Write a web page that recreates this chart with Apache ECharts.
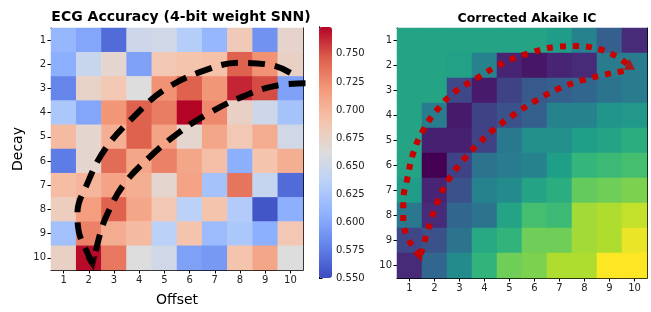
<!DOCTYPE html>
<html>
<head>
<meta charset="utf-8" />
<script src="https://cdn.jsdelivr.net/npm/echarts@6/dist/echarts.min.js"></script>
<style>
  html, body { margin: 0; padding: 0; background: #fff; }
  #chart { width: 651px; height: 312px; }
</style>
</head>
<body>
<div id="chart"></div>
<script>
const offsets = ['1', '2', '3', '4', '5', '6', '7', '8', '9', '10'];
const decays = ['1', '2', '3', '4', '5', '6', '7', '8', '9', '10'];

// ECG accuracy, rows = decay 1..10, cols = offset 1..10
const accuracy = [
  [0.612, 0.600, 0.566, 0.650, 0.652, 0.632, 0.612, 0.683, 0.588, 0.672],
  [0.606, 0.646, 0.670, 0.596, 0.686, 0.690, 0.692, 0.745, 0.722, 0.676],
  [0.580, 0.674, 0.686, 0.662, 0.722, 0.745, 0.720, 0.764, 0.752, 0.596],
  [0.626, 0.600, 0.720, 0.745, 0.732, 0.774, 0.726, 0.676, 0.650, 0.622],
  [0.696, 0.670, 0.704, 0.745, 0.712, 0.670, 0.710, 0.686, 0.706, 0.652],
  [0.575, 0.670, 0.740, 0.710, 0.730, 0.710, 0.694, 0.606, 0.690, 0.705],
  [0.695, 0.700, 0.712, 0.705, 0.670, 0.712, 0.622, 0.736, 0.644, 0.566],
  [0.680, 0.716, 0.745, 0.710, 0.686, 0.636, 0.690, 0.630, 0.555, 0.606],
  [0.620, 0.730, 0.706, 0.696, 0.636, 0.690, 0.616, 0.626, 0.606, 0.686],
  [0.676, 0.772, 0.735, 0.662, 0.652, 0.596, 0.592, 0.690, 0.710, 0.662]
];

// corrected AIC, normalised 0..1
const aicc = [
  [0.58, 0.58, 0.58, 0.58, 0.58, 0.58, 0.55, 0.45, 0.30, 0.12],
  [0.58, 0.58, 0.57, 0.45, 0.10, 0.06, 0.10, 0.12, 0.42, 0.42],
  [0.58, 0.58, 0.22, 0.07, 0.20, 0.28, 0.30, 0.33, 0.38, 0.42],
  [0.58, 0.42, 0.07, 0.20, 0.25, 0.30, 0.45, 0.45, 0.52, 0.53],
  [0.58, 0.09, 0.09, 0.20, 0.40, 0.50, 0.50, 0.56, 0.58, 0.62],
  [0.58, 0.00, 0.20, 0.38, 0.42, 0.45, 0.56, 0.66, 0.68, 0.70],
  [0.55, 0.10, 0.25, 0.45, 0.48, 0.58, 0.62, 0.76, 0.78, 0.80],
  [0.40, 0.12, 0.33, 0.38, 0.58, 0.70, 0.68, 0.86, 0.88, 0.91],
  [0.22, 0.25, 0.38, 0.60, 0.65, 0.78, 0.78, 0.86, 0.88, 0.97],
  [0.12, 0.33, 0.48, 0.65, 0.78, 0.80, 0.88, 0.88, 1.00, 1.00]
];

const accMin = 0.550;
const accMax = 0.774;
const cbTicks = [0.550, 0.575, 0.600, 0.625, 0.650, 0.675, 0.700, 0.725, 0.750];

// annotation arrows, in (offset, decay) units
const ecgOuter = [[10.0, 2.35], [9.3, 2.05], [8.0, 1.94], [6.6, 2.25], [5.0, 3.05], [3.8, 4.15], [2.65, 5.5],
  [1.93, 6.95], [1.55, 8.15], [1.6, 8.9], [1.95, 9.8], [2.15, 10.25]];
const ecgInner = [[10.6, 2.78], [9.35, 2.9], [8.0, 3.38], [6.7, 4.06], [5.6, 4.8], [4.45, 5.8], [3.4, 6.95],
  [2.75, 8.15], [2.45, 9.0], [2.2, 10.1]];
const ecgTip = [[2.15, 10.25]];

const aicOuter = [[1.42, 9.6], [1.1, 9.2], [0.9, 8.8], [0.75, 8.3], [0.75, 7.4], [0.9, 6.58], [1.15, 5.5],
  [1.55, 4.58], [2.1, 3.78], [2.75, 3.1], [3.7, 2.5], [4.75, 1.9], [5.8, 1.5], [6.9, 1.25], [7.7, 1.22],
  [8.6, 1.35], [9.3, 1.65], [9.75, 1.98]];
const aicInner = [[1.45, 9.55], [1.7, 8.7], [2.1, 7.5], [2.55, 6.58], [3.15, 5.78], [3.7, 5.18], [4.35, 4.58],
  [5.15, 3.98], [6.1, 3.38], [7.0, 2.91], [7.95, 2.58], [8.75, 2.38], [9.4, 2.25], [9.8, 2.18]];
const aicTips = [[9.8, 1.95, 0], [1.42, 9.65, 200]];

const coolwarm = ['#3b4cc0', '#6282ea', '#8db0fe', '#b8d0f9', '#dddddd', '#f5c4ad', '#f49a7b', '#de604d', '#b40426'];
const viridis = ['#440154', '#482878', '#3e4989', '#31688e', '#26828e', '#1f9e89', '#35b779', '#6ece58', '#b5de2b', '#fde725'];

const toCells = m => {
  const out = [];
  m.forEach((row, r) => row.forEach((v, c) => out.push([c, r, v])));
  return out;
};

const font = 'DejaVu Sans';
const tickColor = '#222';

const catAxis = (grid, data, pos) => ({
  type: 'category',
  gridIndex: grid,
  data: data,
  position: pos,
  inverse: pos === 'left',
  axisLine: { show: true, lineStyle: { color: '#000', width: 1 } },
  axisTick: { show: true, alignWithLabel: true, length: 3.5, lineStyle: { color: '#000' } },
  axisLabel: { fontFamily: font, fontSize: 10, color: tickColor, margin: 5 },
  splitLine: { show: false }
});

const frameX = grid => ({
  type: 'value', gridIndex: grid, min: 0.5, max: 10.5, position: 'top',
  axisLine: { show: true, onZero: false, lineStyle: { color: '#000', width: 1 } },
  axisTick: { show: false }, axisLabel: { show: false }, splitLine: { show: false }
});
const frameY = grid => ({
  type: 'value', gridIndex: grid, min: 0.5, max: 10.5, inverse: true, position: 'right',
  axisLine: { show: true, onZero: false, lineStyle: { color: '#000', width: 1 } },
  axisTick: { show: false }, axisLabel: { show: false }, splitLine: { show: false }
});

const chart = echarts.init(document.getElementById('chart'));

const option = {
  animation: false,
  backgroundColor: '#fff',
  title: [
    { text: 'ECG Accuracy (4-bit weight SNN)', left: 176, top: 5, textAlign: 'center',
      textStyle: { fontFamily: font, fontWeight: 'bold', fontSize: 14, color: '#000' } },
    { text: 'Corrected Akaike IC', left: 522, top: 7, textAlign: 'center',
      textStyle: { fontFamily: font, fontWeight: 'bold', fontSize: 12.5, color: '#000' } }
  ],
  grid: [
    { left: 51, top: 28, width: 252, height: 250 },
    { left: 397, top: 28, width: 250, height: 250 },
    { left: 319, top: 27, width: 13, height: 251 }
  ],
  xAxis: [
    Object.assign(catAxis(0, offsets, 'bottom'), {
      name: 'Offset', nameLocation: 'middle', nameGap: 23,
      nameTextStyle: { fontFamily: font, fontSize: 14, color: '#000' }
    }),
    catAxis(1, offsets, 'bottom'),
    frameX(0),
    frameX(1),
    { type: 'value', gridIndex: 2, show: false, min: 0, max: 1 }
  ],
  yAxis: [
    Object.assign(catAxis(0, decays, 'left'), {
      name: 'Decay', nameLocation: 'middle', nameGap: 26,
      nameTextStyle: { fontFamily: font, fontSize: 14, color: '#000' }
    }),
    catAxis(1, decays, 'left'),
    frameY(0),
    frameY(1),
    {
      type: 'value', gridIndex: 2, min: accMin, max: accMax, position: 'right',
      axisLine: { show: true, lineStyle: { color: '#000', width: 1 } },
      axisTick: { show: true, length: 3.5, lineStyle: { color: '#000' }, customValues: cbTicks },
      axisLabel: { fontFamily: font, fontSize: 10, color: tickColor, margin: 4,
        customValues: cbTicks, formatter: v => v.toFixed(3) },
      splitLine: { show: false }
    },
    {
      type: 'value', gridIndex: 2, min: accMin, max: accMax, position: 'left',
      axisLine: { show: true, lineStyle: { color: '#000', width: 1 } },
      axisTick: { show: false }, axisLabel: { show: false }, splitLine: { show: false }
    }
  ],
  visualMap: [
    {
      type: 'continuous', seriesIndex: 0, min: accMin, max: accMax,
      inRange: { color: coolwarm }, calculable: false, show: true,
      left: 319, top: 27, itemWidth: 13, itemHeight: 251, padding: 0, text: null,
      textStyle: { color: 'transparent' }
    },
    {
      type: 'continuous', seriesIndex: 1, min: 0, max: 1,
      inRange: { color: viridis }, show: false
    }
  ],
  series: [
    {
      type: 'heatmap', xAxisIndex: 0, yAxisIndex: 0, data: toCells(accuracy),
      itemStyle: { borderWidth: 0 }, emphasis: { disabled: true }
    },
    {
      type: 'heatmap', xAxisIndex: 1, yAxisIndex: 1, data: toCells(aicc),
      itemStyle: { borderWidth: 0 }, emphasis: { disabled: true }
    },
    {
      type: 'line', xAxisIndex: 2, yAxisIndex: 2, data: ecgOuter, smooth: 0.4, symbol: 'none',
      clip: false, z: 5,
      lineStyle: { color: '#000', width: 6, type: [17, 10], cap: 'butt' }
    },
    {
      type: 'line', xAxisIndex: 2, yAxisIndex: 2, data: ecgInner, smooth: 0.4, symbol: 'none',
      clip: false, z: 5,
      lineStyle: { color: '#000', width: 6, type: [17, 10], cap: 'butt' }
    },
    {
      type: 'scatter', xAxisIndex: 2, yAxisIndex: 2, data: ecgTip, symbol: 'triangle',
      symbolSize: [12, 14], symbolRotate: 190, itemStyle: { color: '#000' }, z: 6
    },
    {
      type: 'line', xAxisIndex: 3, yAxisIndex: 3, data: aicOuter, smooth: 0.4, symbol: 'none',
      clip: false, z: 5,
      lineStyle: { color: '#c80000', width: 6, type: [6, 7], cap: 'butt' }
    },
    {
      type: 'line', xAxisIndex: 3, yAxisIndex: 3, data: aicInner, smooth: 0.4, symbol: 'none',
      clip: false, z: 5,
      lineStyle: { color: '#c80000', width: 6, type: [6, 7], cap: 'butt' }
    },
    {
      type: 'scatter', xAxisIndex: 3, yAxisIndex: 3, data: aicTips, symbol: 'triangle',
      symbolSize: 11, symbolRotate: p => p[2], itemStyle: { color: '#c80000' }, z: 6
    }
  ]
};

chart.setOption(option);
</script>
</body>
</html>
